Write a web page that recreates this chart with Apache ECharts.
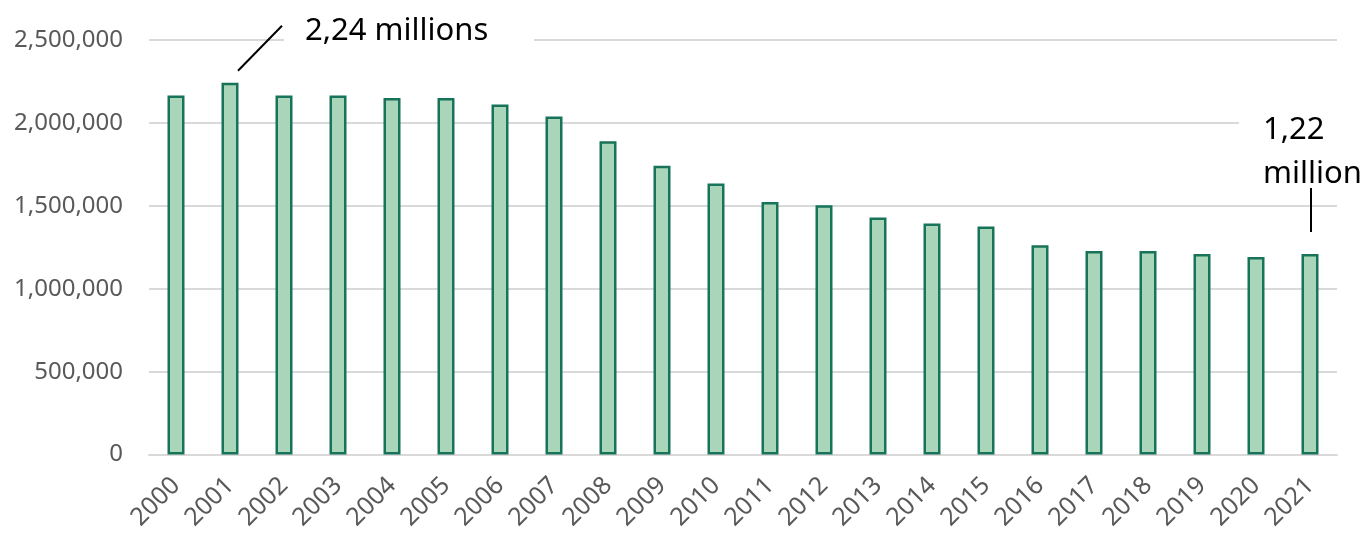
<!DOCTYPE html>
<html>
<head>
<meta charset="utf-8">
<script src="https://cdn.jsdelivr.net/npm/echarts@6/dist/echarts.min.js"></script>
<style>
  * { margin: 0; padding: 0; }
  #chart-container { width: 1364px; height: 533px; background: #fff; }
</style>
</head>
<body>
<div id="chart-container"></div>
<script>
  // data
  var years = ['2000', '2001', '2002', '2003', '2004', '2005', '2006', '2007', '2008', '2009', '2010',
    '2011', '2012', '2013', '2014', '2015', '2016', '2017', '2018', '2019', '2020', '2021']
  var values = [2166000, 2242000, 2166000, 2166000, 2150000, 2150000, 2111000, 2039000, 1890000, 1742000, 1634000,
    1523000, 1503000, 1430000, 1393000, 1375000, 1262000, 1228000, 1228000, 1210000, 1192000, 1210000]
  var yMax = 2500000
  var yStep = 500000
  var noteHigh = '2,24 millions'
  var noteLow = '1,22\nmillion'

  var font = 'Noto Sans'
  var chartDom = document.getElementById('chart-container')
  var myChart = echarts.init(chartDom, null, { renderer: 'canvas' })

  var option = {
    animation: false,
    grid: { left: 149, right: 27, top: 40, bottom: 78 },
    xAxis: {
      type: 'category',
      data: years,
      axisLine: { lineStyle: { color: '#d9d9d9', width: 2 } },
      axisTick: { show: false },
      axisLabel: {
        rotate: 45,
        margin: 27,
        color: '#595959',
        fontFamily: font,
        fontSize: 25,
        interval: 0,
        padding: [0, 0, 0, 0]
      }
    },
    yAxis: {
      type: 'value',
      min: 0,
      max: yMax,
      interval: yStep,
      axisLine: { show: false },
      axisTick: { show: false },
      splitLine: { lineStyle: { color: '#d9d9d9', width: 2 } },
      axisLabel: {
        margin: 26,
        color: '#595959',
        fontFamily: font,
        fontSize: 24,
        formatter: function (v) { return v.toLocaleString('en-US') }
      }
    },
    series: [
      {
        type: 'bar',
        data: values,
        barWidth: 17,
        itemStyle: {
          color: '#a9d5b9',
          borderColor: '#17735a',
          borderWidth: 2.5
        }
      }
    ]
  }
  myChart.setOption(option)

  // annotations placed relative to the bars they point at
  var hi = myChart.convertToPixel({ xAxisIndex: 0, yAxisIndex: 0 }, [years[1], values[1]])
  var lo = myChart.convertToPixel({ xAxisIndex: 0, yAxisIndex: 0 }, [years[21], values[21]])

  myChart.setOption({
    graphic: [
      {
        type: 'rect',
        shape: { x: hi[0] + 54, y: hi[1] - 72, width: 250, height: 44 },
        style: { fill: '#fff' }
      },
      {
        type: 'line',
        shape: { x1: hi[0] + 8, y1: hi[1] - 12, x2: hi[0] + 52, y2: hi[1] - 57 },
        style: { stroke: '#000', lineWidth: 2 }
      },
      {
        type: 'text',
        x: hi[0] + 75,
        y: hi[1] - 52,
        style: {
          text: noteHigh,
          fill: '#000',
          font: '31px "' + font + '"',
          verticalAlign: 'middle'
        }
      },
      {
        type: 'rect',
        shape: { x: lo[0] - 71, y: lo[1] - 152, width: 140, height: 86 },
        style: { fill: '#fff' }
      },
      {
        type: 'line',
        shape: { x1: lo[0] + 1, y1: lo[1] - 66, x2: lo[0] + 1, y2: lo[1] - 22 },
        style: { stroke: '#000', lineWidth: 2 }
      },
      {
        type: 'text',
        x: lo[0] - 47,
        y: lo[1] - 102,
        style: {
          text: noteLow,
          fill: '#000',
          font: '31px "' + font + '"',
          lineHeight: 44,
          verticalAlign: 'middle'
        }
      }
    ]
  })
  window.addEventListener('resize', myChart.resize)
</script>
</body>
</html>
